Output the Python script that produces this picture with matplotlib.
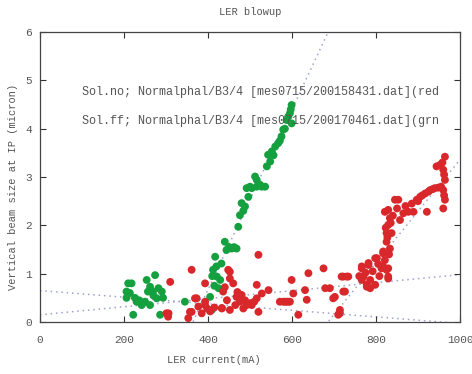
import numpy as np
import matplotlib
matplotlib.use('Agg')
import matplotlib.pyplot as plt

# green: Sol. off
green_x = [210, 206, 206, 218, 222, 230, 242, 254, 257, 269, 274, 278, 286, 290, 293,
           262, 250, 345, 262, 236, 246, 270, 282, 226, 214,
           405, 409, 417, 412, 421, 429, 432, 440, 444, 456, 468, 450, 462, 415, 425, 420, 410,
           472, 476, 480, 488, 496, 492, 504, 516, 528, 536, 516, 500, 524, 484,
           512, 540, 548, 543, 552, 560, 567, 575, 579, 587, 599, 595, 599, 556, 571, 583, 591, 597]
green_y = [0.80, 0.63, 0.50, 0.80, 0.15, 0.42, 0.35, 0.87, 0.63, 0.63, 0.97, 0.49, 0.15, 0.63, 0.50,
           0.35, 0.42, 0.42, 0.73, 0.45, 0.40, 0.55, 0.70, 0.50, 0.60,
           0.52, 0.25, 1.35, 1.08, 0.94, 0.87, 1.21, 1.66, 1.49, 1.52, 1.52, 1.55, 1.55, 0.75, 0.70, 1.15, 0.95,
           1.97, 2.21, 2.46, 2.39, 2.59, 2.77, 2.77, 2.80, 2.80, 2.80, 2.94, 2.80, 2.84, 2.30,
           3.01, 3.22, 3.32, 3.46, 3.53, 3.63, 3.70, 3.84, 3.98, 4.18, 4.11, 4.32, 4.49, 3.45, 3.75, 4.00, 4.25, 4.40]

# red: Sol. on
red_x = [301, 305, 306, 310, 353, 357, 361, 361, 369, 373, 377, 385, 393, 393, 393, 433, 433, 436,
         448, 452, 452, 452, 460, 468, 476, 480, 484, 492, 500, 504, 516, 516, 520, 520, 528, 544,
         571, 579, 587, 595, 599, 603, 615, 631, 635, 639, 675, 679, 690, 698, 702, 710, 714, 714,
         718, 722, 722, 726, 730, 734, 766, 766, 766, 770, 778, 778, 782, 782, 786, 786, 798, 798,
         802, 813, 813, 817, 817, 817, 821, 825, 825, 825, 829, 829, 829, 829, 829, 833, 833, 837,
         821, 845, 853, 857, 865, 877, 889, 897, 905, 917, 921, 929, 940, 944, 952, 960, 964, 964,
         960, 964, 960,
         823, 827, 831, 835, 840, 850, 870, 885, 900, 910, 925, 935, 948, 955, 962, 958, 962,
         805, 792, 775, 760, 808, 465, 470, 488, 510, 445, 440, 415, 405, 398, 583, 591]
red_y = [0.18, 0.11, 0.18, 0.83, 0.08, 0.21, 1.08, 0.21, 0.49, 0.49, 0.32, 0.18, 0.80, 0.42, 0.35, 0.29, 0.28, 0.63,
         1.08, 1.04, 0.90, 0.25, 0.80, 0.52, 0.42, 0.56, 0.28, 0.35, 0.39, 0.35, 0.49, 0.77, 1.39, 0.21, 0.59, 0.66,
         0.42, 0.42, 0.42, 0.42, 0.87, 0.59, 0.15, 0.66, 0.46, 1.01, 1.11, 0.70, 0.70, 0.49, 0.52, 0.15, 0.25, 0.18,
         0.94, 0.63, 0.94, 0.63, 0.94, 0.94, 1.15, 0.87, 1.11, 0.94, 0.77, 0.73, 1.22, 1.18, 0.70, 0.87, 1.32, 0.77,
         1.32, 1.15, 1.11, 1.42, 1.15, 1.46, 1.28, 1.08, 1.66, 1.84, 0.90, 1.11, 0.94, 2.01, 2.32, 1.52, 2.15, 1.84,
         2.28, 2.53, 2.53, 2.11, 2.25, 2.28, 2.28, 2.53, 2.59, 2.66, 2.28, 2.73, 2.77, 3.22, 3.25, 3.15, 3.42, 2.94,
         2.73, 2.53, 2.35,
         1.95, 1.75, 1.40, 2.05, 2.20, 2.35, 2.40, 2.45, 2.50, 2.62, 2.70, 2.75, 2.78, 2.80, 3.05, 3.30, 2.62,
         1.20, 1.05, 1.02, 0.95, 0.95, 0.35, 0.62, 0.45, 0.42, 0.45, 0.72, 0.30, 0.22, 0.28, 0.42, 0.42]

# dotted guide lines: (slope, intercept)
fit_slopes = [0.01863, 0.01068, -0.00068, 0.00083]
fit_icepts = [-6.78, -7.32, 0.65, 0.15]

legend_no = "Sol.no; Normalphal/B3/4 [mes0715/200158431.dat](red"
legend_ff = "Sol.ff; Normalphal/B3/4 [mes0715/200170461.dat](grn"

FONT = 'Liberation Mono'
TXT = '#555555'

fig = plt.figure(figsize=(4.72, 3.74), dpi=100)
ax = fig.add_axes([0.0847, 0.139, 0.89, 0.7754])

xs = np.array([0, 1000])
for m, b in zip(fit_slopes, fit_icepts):
    ax.plot(xs, m * xs + b, linestyle=(0, (1, 2.5)), color='#9ea3cc', lw=1.1, zorder=1)

ax.scatter(green_x, green_y, s=32, color='#14a03f', edgecolors='none', zorder=3)
ax.scatter(red_x, red_y, s=32, color='#d9282c', edgecolors='none', zorder=3)

ax.text(100, 4.76, legend_no, family=FONT, fontsize=8.5, color=TXT, va='center')
ax.text(100, 4.16, legend_ff, family=FONT, fontsize=8.5, color=TXT, va='center')

ax.set_xlim(0, 1000)
ax.set_ylim(0, 6)
ax.set_xticks(range(0, 1001, 200))
ax.set_yticks(range(0, 7))
ax.tick_params(direction='in', top=True, right=True, length=4, width=0.8,
               labelsize=8, colors='#333333', labelcolor=TXT)
ax.tick_params(axis='x', pad=9)
ax.tick_params(axis='y', pad=6)
for lbl in ax.get_xticklabels() + ax.get_yticklabels():
    lbl.set_family(FONT)
for sp in ax.spines.values():
    sp.set_color('#444444')
    sp.set_linewidth(0.9)

ax.set_title('LER blowup', family=FONT, fontsize=7.5, color=TXT, pad=12)
fig.text(214 / 472, 1 - 360 / 374, 'LER current(mA)', family=FONT, fontsize=7.5,
         color=TXT, ha='center', va='center')
fig.text(13 / 472, 0.5, 'Vertical beam size at IP (micron)', family=FONT, fontsize=7.5,
         color=TXT, ha='center', va='center', rotation=90)

fig.savefig('out.png', dpi=100)
